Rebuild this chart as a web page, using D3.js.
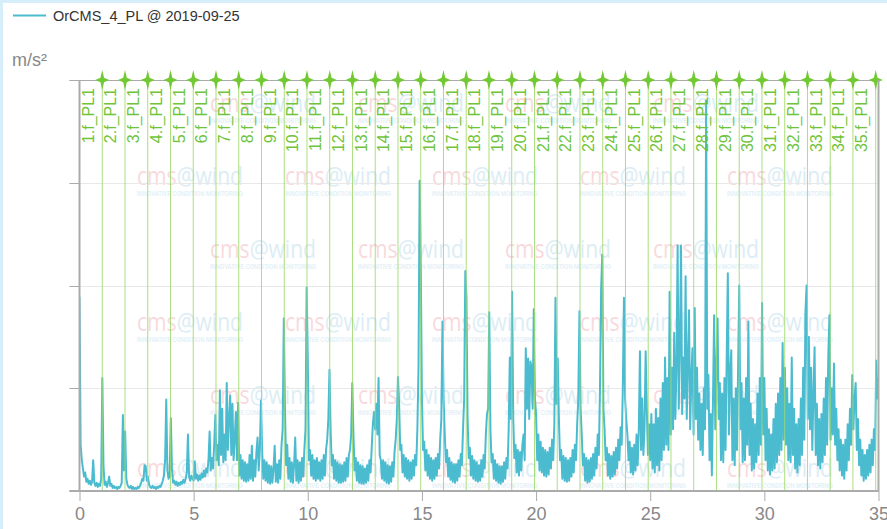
<!DOCTYPE html>
<html>
<head>
<meta charset="utf-8">
<script src="https://cdn.jsdelivr.net/npm/d3@7"></script>
<style>
  html, body { margin: 0; padding: 0; background: #ffffff; }
  svg { display: block; }
</style>
</head>
<body>
<svg id="chart" width="887" height="529"></svg>
<script>
// Spectrum of channel OrCMS_4_PL, amplitude per frequency bin (bin width 0.05)
const seriesName = "OrCMS_4_PL @ 2019-09-25";
const unitLabel = "m/s²";
const freqStep = 0.05;
const spectrum = [
  1.89,0.45,0.30,0.22,0.14,0.18,0.09,0.12,0.07,0.10,0.06,0.09,0.30,0.08,0.05,0.08,0.04,0.07,0.05,0.12,
  1.10,0.25,0.06,0.09,0.04,0.08,0.14,0.05,0.07,0.03,0.05,0.03,0.04,0.02,0.04,0.03,0.05,0.08,0.74,0.20,
  0.58,0.12,0.06,0.04,0.03,0.05,0.02,0.04,0.02,0.03,0.02,0.04,0.03,0.05,0.08,0.12,0.10,0.25,0.24,0.10,
  0.14,0.06,0.04,0.03,0.05,0.03,0.04,0.02,0.04,0.03,0.05,0.04,0.07,0.10,0.15,0.30,0.89,0.20,0.12,0.15,
  0.71,0.22,0.08,0.10,0.06,0.09,0.05,0.08,0.06,0.09,0.07,0.11,0.08,0.12,0.18,0.55,0.14,0.10,0.15,0.12,
  0.10,0.29,0.12,0.16,0.10,0.15,0.11,0.17,0.13,0.20,0.14,0.22,0.18,0.30,0.58,0.20,0.32,0.22,0.45,0.74,
  0.30,0.45,0.25,0.98,0.35,0.80,0.28,0.55,0.30,1.05,0.40,0.70,0.93,0.35,0.85,0.30,0.50,0.77,0.30,0.86,
  0.15,0.35,0.12,0.30,0.10,0.28,0.09,0.26,0.10,0.35,0.12,0.44,0.10,0.30,0.14,0.38,0.52,0.20,0.40,0.88,
  0.40,0.12,0.30,0.10,0.28,0.08,0.25,0.07,0.24,0.08,0.22,0.44,0.09,0.26,0.08,0.30,0.12,0.45,0.60,1.68,
  0.80,0.25,0.45,0.12,0.32,0.09,0.28,0.08,0.26,0.52,0.10,0.30,0.08,0.28,0.10,0.32,0.14,0.40,0.60,1.98,
  1.29,0.30,0.40,0.15,0.35,0.12,0.30,0.10,0.32,0.12,0.28,0.10,0.30,0.12,0.35,0.15,0.40,0.50,0.70,1.18,
  0.60,0.25,0.35,0.12,0.30,0.10,0.28,0.08,0.26,0.08,0.25,0.09,0.28,0.10,0.32,0.14,0.35,0.40,0.55,1.05,
  0.55,0.20,0.32,0.10,0.28,0.08,0.25,0.07,0.24,0.07,0.22,0.08,0.25,0.10,0.30,0.18,0.42,0.65,0.77,0.60,
  0.85,0.55,1.10,0.35,0.30,0.12,0.30,0.10,0.28,0.08,0.25,0.07,0.24,0.09,0.28,0.14,0.38,0.50,0.70,1.11,
  0.85,0.40,0.45,0.18,0.35,0.14,0.32,0.12,0.30,0.10,0.28,0.12,0.30,0.15,0.35,0.25,0.60,1.20,3.02,2.17,
  0.90,0.40,0.48,0.20,0.40,0.15,0.35,0.12,0.32,0.10,0.30,0.12,0.32,0.15,0.36,0.22,0.50,0.70,1.65,0.90,
  0.55,0.28,0.40,0.14,0.32,0.11,0.28,0.09,0.26,0.08,0.26,0.10,0.30,0.14,0.36,0.25,0.60,0.90,2.14,1.88,
  0.70,0.32,0.42,0.15,0.34,0.12,0.30,0.10,0.28,0.09,0.25,0.10,0.30,0.14,0.35,0.22,0.55,0.75,0.80,1.74,
  0.60,0.28,0.36,0.12,0.30,0.10,0.26,0.08,0.24,0.07,0.24,0.09,0.28,0.12,0.32,0.22,0.60,1.30,0.70,1.94,
  0.70,0.32,0.45,0.18,0.40,0.15,0.38,0.20,0.45,0.55,0.30,1.39,0.80,1.29,0.70,1.26,1.20,0.80,1.77,0.90,
  0.75,0.30,0.55,0.20,0.48,0.18,0.42,0.15,0.40,0.14,0.38,0.16,0.42,0.22,0.50,0.30,0.65,1.88,0.85,1.29,
  0.70,0.30,0.40,0.12,0.34,0.10,0.32,0.09,0.30,0.10,0.32,0.14,0.40,0.18,0.45,0.30,0.65,0.90,1.75,0.80,
  0.55,0.25,0.36,0.10,0.32,0.08,0.30,0.09,0.32,0.12,0.36,0.15,0.42,0.22,0.55,0.35,1.00,1.97,2.30,0.80,
  0.60,0.30,0.42,0.15,0.36,0.12,0.34,0.14,0.38,0.16,0.42,0.22,0.50,0.30,0.62,0.45,1.00,1.88,0.90,0.70,
  0.55,0.30,0.48,0.18,0.42,0.16,0.45,0.20,0.55,0.25,0.60,1.36,0.40,0.90,0.35,0.60,1.36,0.80,0.35,0.65,
  0.30,0.75,0.22,0.65,0.18,0.80,0.25,0.71,0.20,0.90,0.30,1.05,0.40,1.30,0.45,1.10,0.40,1.94,0.55,1.20,
  0.60,1.54,0.70,1.20,2.39,0.80,1.40,2.39,0.75,1.30,0.90,2.09,0.70,1.25,1.76,0.60,1.10,1.39,0.55,1.78,
  0.70,1.20,0.50,0.95,0.40,0.85,0.35,1.00,0.60,3.80,0.80,1.13,0.30,0.75,0.15,0.90,1.71,0.60,1.20,1.68,
  0.70,1.05,0.30,0.95,0.28,1.10,0.40,1.30,2.12,0.55,1.15,1.37,0.30,0.90,0.25,1.00,0.40,1.20,2.00,0.60,
  1.05,0.28,0.90,0.30,1.10,0.45,1.65,0.35,0.85,0.20,0.70,0.22,0.65,0.28,0.95,0.35,1.10,0.45,1.83,0.55,
  1.10,0.30,0.80,0.20,0.60,0.16,0.55,0.20,0.70,0.22,0.85,0.28,0.95,0.35,1.10,0.40,1.44,0.50,1.20,0.45,
  1.00,0.30,0.85,0.28,1.30,0.35,0.80,0.22,0.65,0.18,0.70,0.25,0.90,0.35,1.20,0.50,1.75,2.00,0.70,1.50,
  0.60,1.20,0.40,0.95,1.40,0.35,0.85,0.25,0.70,0.22,0.75,0.28,0.90,0.35,1.10,0.45,1.30,1.71,0.50,1.00,
  0.55,1.24,0.45,0.80,0.30,0.60,0.20,0.50,0.15,0.45,0.12,0.50,0.20,0.65,0.30,0.80,0.45,1.13,0.60,0.90,
  1.05,0.40,0.70,0.25,0.50,0.15,0.40,0.10,0.35,0.12,0.40,0.15,0.45,0.18,0.50,0.25,0.60,0.40,1.27,0.90,
  1.10
];

// Frequency axis ticks and the y range
const xTicks = [0, 5, 10, 15, 20, 25, 30, 35];
const xDomain = [0, 35];
const yDomain = [0, 4];
const yTicks = [0, 1, 2, 3, 4];

// Planet-carrier harmonic markers: order k sits at k * fPL1
const fPL1 = 0.9965;
const plOrders = d3.range(1, 36);

const colors = {
  line: "#4bbbd0",
  marker: "#72c933",
  markerLine: "#9bd96a",
  markerText: "#6fc43a",
  axis: "#ababab",
  grid: "#e8e8e8",
  text: "#888888",
  frame: "#d6eefa"
};

const svg = d3.select("#chart");
const W = 887, H = 529;
const margin = { left: 79.5, right: 8.5, top: 80, bottom: 38 };

const x = d3.scaleLinear().domain(xDomain).range([margin.left, W - margin.right]);
const y = d3.scaleLinear().domain(yDomain).range([H - margin.bottom, margin.top]);

// page frame
svg.append("rect").attr("x", 0).attr("y", 0).attr("width", W).attr("height", 3).attr("fill", colors.frame);
svg.append("rect").attr("x", 0).attr("y", 0).attr("width", 3).attr("height", H).attr("fill", colors.frame);

// brand watermark tiles
const wmRows = [112, 185, 258, 331, 404, 477];
const wmColsA = [137, 285, 432, 580, 727];
const wmColsB = [210, 358, 505, 653];
const wm = svg.append("g").attr("class", "watermark").attr("pointer-events", "none");
wmRows.forEach((by, r) => {
  const cols = r % 2 === 0 ? wmColsB : wmColsA;
  cols.forEach(bx => {
    const t = wm.append("text")
      .attr("x", bx).attr("y", by)
      .attr("font-family", "'Open Sans', 'Liberation Sans', Arial, sans-serif")
      .attr("font-size", 25)
      .attr("textLength", 106)
      .attr("lengthAdjust", "spacingAndGlyphs");
    t.append("tspan").attr("fill", "#f8dadd").text("cms");
    t.append("tspan").attr("fill", "#dcedf5").text("@wind");
    wm.append("text")
      .attr("x", bx).attr("y", by + 11)
      .attr("font-family", "'Liberation Sans', Arial, sans-serif")
      .attr("font-size", 6.5)
      .attr("font-weight", "bold")
      .attr("textLength", 106)
      .attr("lengthAdjust", "spacingAndGlyphs")
      .attr("fill", "#e3f0f6")
      .text("INNOVATIVE CONDITION MONITORING");
  });
});

// horizontal grid with short left ticks
const grid = svg.append("g");
grid.selectAll("line.g").data(yTicks).join("line")
  .attr("x1", margin.left - 10).attr("x2", W - margin.right)
  .attr("y1", d => Math.round(y(d)) + 0.5).attr("y2", d => Math.round(y(d)) + 0.5)
  .attr("stroke", (d, i) => (i === 0 || i === yTicks.length - 1) ? colors.axis : colors.grid)
  .attr("stroke-width", 1);
grid.selectAll("line.t").data(yTicks).join("line")
  .attr("x1", margin.left - 10).attr("x2", margin.left)
  .attr("y1", d => Math.round(y(d)) + 0.5).attr("y2", d => Math.round(y(d)) + 0.5)
  .attr("stroke", colors.axis).attr("stroke-width", 1);

// clip for the data line
svg.append("clipPath").attr("id", "plotClip").append("rect")
  .attr("x", margin.left).attr("y", margin.top)
  .attr("width", W - margin.right - margin.left).attr("height", H - margin.bottom - margin.top);

const line = d3.line()
  .x((d, i) => x(i * freqStep))
  .y(d => y(d));

svg.append("path")
  .datum(spectrum)
  .attr("clip-path", "url(#plotClip)")
  .attr("fill", "none")
  .attr("stroke", colors.line)
  .attr("stroke-width", 2)
  .attr("stroke-linejoin", "round")
  .attr("d", line);

// harmonic marker lines
const marks = svg.append("g");
marks.selectAll("line").data(plOrders).join("line")
  .attr("x1", k => x(k * fPL1)).attr("x2", k => x(k * fPL1))
  .attr("y1", margin.top).attr("y2", H - margin.bottom)
  .attr("stroke", colors.markerLine)
  .attr("stroke-opacity", 0.85)
  .attr("stroke-width", 1);

// axis frame
const xAxis = d3.axisBottom(x).tickValues(xTicks).tickSize(10).tickPadding(6).tickFormat(d3.format("d"));
const gx = svg.append("g").attr("transform", `translate(0,${H - margin.bottom})`).call(xAxis);
gx.select(".domain").attr("stroke", colors.axis).attr("stroke-width", 2)
  .attr("d", `M${margin.left - 10},0H${W - margin.right}`);
gx.selectAll(".tick line").attr("stroke", colors.axis).attr("stroke-width", 1);
gx.selectAll(".tick text")
  .attr("fill", colors.text)
  .attr("font-family", "'Liberation Sans', Arial, sans-serif")
  .attr("font-size", 18);

svg.append("line")
  .attr("x1", margin.left).attr("x2", margin.left)
  .attr("y1", margin.top).attr("y2", H - margin.bottom)
  .attr("stroke", colors.axis).attr("stroke-width", 2);
svg.append("line")
  .attr("x1", W - margin.right).attr("x2", W - margin.right)
  .attr("y1", margin.top).attr("y2", H - margin.bottom)
  .attr("stroke", colors.axis).attr("stroke-width", 2);

// marker stars along the top edge
const star = "M0,-10L1.8,-2.2L7,0L1.8,2.2L0,10L-1.8,2.2L-7,0L-1.8,-2.2Z";
marks.selectAll("path.star").data(plOrders).join("path")
  .attr("class", "star")
  .attr("transform", k => `translate(${x(k * fPL1)},${margin.top})`)
  .attr("d", star)
  .attr("fill", colors.marker);

// marker labels, rotated, sitting left of each line
marks.selectAll("text").data(plOrders).join("text")
  .attr("transform", k => `translate(${x(k * fPL1) - 8.5},${margin.top + 8}) rotate(-90)`)
  .attr("text-anchor", "end")
  .attr("fill", colors.markerText)
  .attr("font-family", "'Liberation Sans', Arial, sans-serif")
  .attr("font-size", 16)
  .text(k => `${k}.f_PL1`);

// unit label
svg.append("text")
  .attr("x", 12).attr("y", 66)
  .attr("fill", colors.text)
  .attr("font-family", "'Liberation Sans', Arial, sans-serif")
  .attr("font-size", 18)
  .text(unitLabel);

// legend
const lg = svg.append("g");
lg.append("line").attr("x1", 13).attr("x2", 46).attr("y1", 15.5).attr("y2", 15.5)
  .attr("stroke", colors.line).attr("stroke-width", 2);
lg.append("text").attr("x", 53).attr("y", 20.5)
  .attr("fill", "#333333")
  .attr("font-family", "'Liberation Sans', Arial, sans-serif")
  .attr("font-size", 14.5)
  .text(seriesName);
</script>
</body>
</html>
